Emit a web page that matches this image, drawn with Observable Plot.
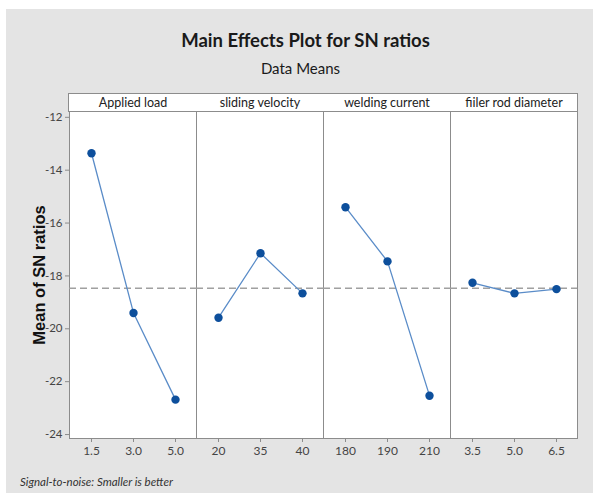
<!DOCTYPE html>
<html>
<head>
<meta charset="utf-8">
<script src="https://cdn.jsdelivr.net/npm/d3@7"></script>
<script src="https://cdn.jsdelivr.net/npm/@observablehq/plot@0.6"></script>
<style>
  html, body { margin: 0; padding: 0; background: #ffffff; }
  #wrap { position: relative; width: 600px; height: 497px; overflow: hidden; font-family: Lato, "Open Sans", sans-serif; }
  #bg { position: absolute; left: 6px; top: 9px; width: 587px; height: 484px; background: #e4e4e4; }
  #title { position: absolute; left: 0; width: 611px; top: 29px; text-align: center; font-size: 18.5px; font-weight: bold; color: #1a1a1a; }
  #subtitle { position: absolute; left: 0; width: 601px; top: 59px; text-align: center; font-size: 15px; color: #1a1a1a; }
  #strip { position: absolute; left: 68px; top: 93px; width: 508px; height: 17px; background: #fff; border: 1px solid #8c8c8c; }
  #caption { position: absolute; left: 20px; top: 475px; font-size: 11.5px; font-style: italic; color: #333; }
  #chart { position: absolute; left: 0; top: 0; }
  #chart svg { background: transparent !important; }
  g[aria-label="y-axis label"] text { font-weight: bold; font-size: 16.5px; fill: #111; font-family: "Liberation Sans", Arial, sans-serif; }
</style>
</head>
<body>
<div id="wrap">
  <div id="bg"></div>
  <div id="strip"></div>
  <div id="title">Main Effects Plot for SN ratios</div>
  <div id="subtitle">Data Means</div>
  <div id="chart"></div>
  <div id="caption">Signal-to-noise: Smaller is better</div>
</div>
<script>
// Factors (panels)
const factors = ["Applied load", "sliding velocity", "welding current", "fiiler rod diameter"];
// Level tick labels per factor
const levelsLoad = ["1.5", "3.0", "5.0"];
const levelsVelocity = ["20", "35", "40"];
const levelsCurrent = ["180", "190", "210"];
const levelsFiller = ["3.5", "5.0", "6.5"];
// Mean SN ratios per level
const snLoad = [-13.36, -19.40, -22.68];
const snVelocity = [-19.58, -17.14, -18.66];
const snCurrent = [-15.40, -17.45, -22.53];
const snFiller = [-18.26, -18.66, -18.50];
// Y tick values
const yTicks = [-12, -14, -16, -18, -20, -22, -24];

const levels = [levelsLoad, levelsVelocity, levelsCurrent, levelsFiller];
const values = [snLoad, snVelocity, snCurrent, snFiller];
const rows = [];
factors.forEach((f, i) => levels[i].forEach((lv, j) => rows.push({factor: f, idx: j, level: lv, sn: values[i][j]})));
const grandMean = d3.mean(rows, d => d.sn);

const chart = Plot.plot({
  width: 600,
  height: 497,
  marginTop: 111,
  marginBottom: 59,
  marginLeft: 68,
  marginRight: 23,
  style: {background: "transparent", fontFamily: "Lato, 'Open Sans', sans-serif", color: "#333"},
  fx: {domain: factors, padding: 0, label: null},
  x: {domain: [0, 1, 2], type: "point", padding: 0.5},
  y: {domain: [-24.15, -11.78]},
  marks: [
    Plot.frame({fill: "white", stroke: "#8c8c8c"}),
    Plot.axisFx({anchor: "top", tickSize: 0, tickPadding: 9, lineAnchor: "middle", label: null, fontSize: 12.5, fill: "#222"}),
    Plot.axisY(yTicks, {tickFormat: d => String(d), tickSize: 4, tickPadding: 3, fontSize: 11.5, stroke: "#8c8c8c", fill: "#444",
      label: "Mean of SN ratios", labelAnchor: "center", labelArrow: "none", labelOffset: 36}),
    Plot.axisX({tickFormat: () => "", tickSize: 4, label: null, stroke: "#8c8c8c"}),
    Plot.text(rows, {fx: "factor", x: "idx", text: "level", frameAnchor: "bottom", dy: 16, fontSize: 12, fill: "#444"}),
    Plot.ruleY([grandMean], {stroke: "#a0a0a0", strokeWidth: 1.5, strokeDasharray: "7,4"}),
    Plot.line(rows, {fx: "factor", x: "idx", y: "sn", stroke: "#5a8cc8", strokeWidth: 1.3}),
    Plot.dot(rows, {fx: "factor", x: "idx", y: "sn", r: 4.2, fill: "#0d4f9c", stroke: "none"})
  ]
});
document.getElementById("chart").appendChild(chart);
</script>
</body>
</html>
